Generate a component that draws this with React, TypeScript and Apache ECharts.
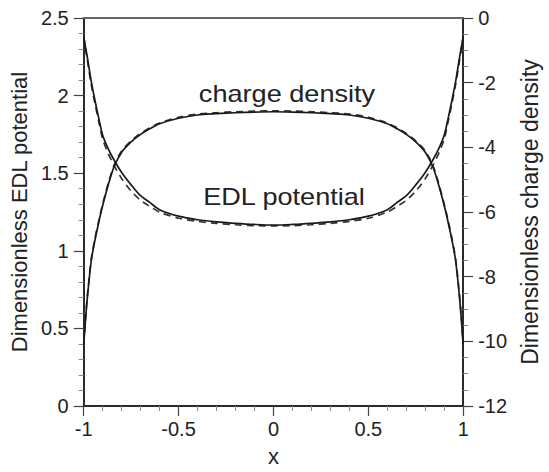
import React, { useEffect, useRef } from "react";
import * as echarts from "echarts";

// x positions across the channel (-1 .. 1)
const xs = [
  -1, -0.99, -0.98, -0.96, -0.94, -0.92, -0.9, -0.87, -0.84, -0.8, -0.75, -0.7, -0.65, -0.6, -0.5, -0.4, -0.3, -0.2, -0.1, 0,
  0.1, 0.2, 0.3, 0.4, 0.5, 0.6, 0.65, 0.7, 0.75, 0.8, 0.84, 0.87, 0.9, 0.92, 0.94, 0.96, 0.98, 0.99, 1,
];

// Dimensionless EDL potential (left axis)
const edlSolid = [
  2.38, 2.31, 2.24, 2.09, 1.965, 1.85, 1.745, 1.655, 1.585, 1.505, 1.425, 1.355, 1.31, 1.265, 1.223, 1.2, 1.186, 1.177, 1.17, 1.166,
  1.17, 1.177, 1.186, 1.2, 1.223, 1.265, 1.31, 1.355, 1.425, 1.505, 1.585, 1.655, 1.745, 1.85, 1.965, 2.09, 2.24, 2.31, 2.38,
];
const edlDashed = [
  2.38, 2.3, 2.22, 2.07, 1.945, 1.83, 1.72, 1.625, 1.55, 1.465, 1.385, 1.325, 1.285, 1.25, 1.21, 1.19, 1.177, 1.168, 1.162, 1.16,
  1.162, 1.168, 1.177, 1.19, 1.21, 1.25, 1.285, 1.325, 1.385, 1.465, 1.55, 1.625, 1.72, 1.83, 1.945, 2.07, 2.22, 2.3, 2.38,
];

// Dimensionless charge density (right axis)
const cdSolid = [
  -10.1, -9.3, -8.6, -7.5, -6.85, -6.3, -5.8, -5.15, -4.6, -4.15, -3.83, -3.6, -3.42, -3.27, -3.1, -3.0, -2.96, -2.93, -2.91, -2.9,
  -2.91, -2.93, -2.96, -3.0, -3.1, -3.27, -3.42, -3.6, -3.83, -4.15, -4.6, -5.15, -5.8, -6.3, -6.85, -7.5, -8.6, -9.3, -10.1,
];
const cdDashed = [
  -10.1, -9.25, -8.55, -7.45, -6.8, -6.25, -5.76, -5.1, -4.56, -4.11, -3.8, -3.57, -3.39, -3.25, -3.07, -2.97, -2.93, -2.9, -2.88, -2.87,
  -2.88, -2.9, -2.93, -2.97, -3.07, -3.25, -3.39, -3.57, -3.8, -4.11, -4.56, -5.1, -5.76, -6.25, -6.8, -7.45, -8.55, -9.25, -10.1,
];

const FONT = "Liberation Sans, Arial, Helvetica, sans-serif";

const pairs = (ys: number[]) => xs.map((x, i) => [x, ys[i]]);

export default function App() {
  const ref = useRef<HTMLDivElement>(null);
  useEffect(() => {
    if (!ref.current) return;
    const chart = echarts.init(ref.current, undefined, { renderer: "svg" });
    const axisDark = "#2b2b2b";
    const tickLbl = { color: "#222", fontFamily: FONT, fontSize: 20 };
    chart.setOption({
      animation: false,
      backgroundColor: "#fff",
      grid: { left: 82, right: 74, top: 18, bottom: 60, containLabel: false },
      xAxis: [
        {
          type: "value",
          min: -1,
          max: 1,
          interval: 0.5,
          name: "x",
          nameLocation: "middle",
          nameGap: 39,
          nameTextStyle: { color: "#222", fontFamily: FONT, fontSize: 22 },
          axisLine: { show: true, onZero: false, lineStyle: { color: axisDark, width: 2 } },
          axisTick: { show: true, length: 10, lineStyle: { color: "#444", width: 1.2 } },
          minorTick: { show: true, splitNumber: 5, length: 5, lineStyle: { color: "#888", width: 1 } },
          axisLabel: { ...tickLbl, margin: 13 },
          splitLine: { show: false },
        },
        {
          type: "value",
          position: "top",
          min: -1,
          max: 1,
          axisLine: { show: true, onZero: false, lineStyle: { color: "#666", width: 2 } },
          axisTick: { show: false },
          axisLabel: { show: false },
          splitLine: { show: false },
        },
      ],
      yAxis: [
        {
          type: "value",
          position: "left",
          min: 0,
          max: 2.5,
          interval: 0.5,
          name: "Dimensionless EDL potential",
          nameLocation: "middle",
          nameGap: 49,
          nameTextStyle: { color: "#222", fontFamily: FONT, fontSize: 22 },
          axisLine: { show: true, onZero: false, lineStyle: { color: axisDark, width: 2 } },
          axisTick: { show: true, length: 10, lineStyle: { color: "#444", width: 1.2 } },
          minorTick: { show: true, splitNumber: 5, length: 5, lineStyle: { color: "#888", width: 1 } },
          axisLabel: { ...tickLbl, margin: 15 },
          splitLine: { show: false },
        },
        {
          type: "value",
          position: "right",
          min: -12,
          max: 0,
          interval: 2,
          name: "Dimensionless charge density",
          nameLocation: "middle",
          nameGap: 51,
          nameTextStyle: { color: "#222", fontFamily: FONT, fontSize: 23 },
          axisLine: { show: true, onZero: false, lineStyle: { color: axisDark, width: 2 } },
          axisTick: { show: true, length: 10, lineStyle: { color: "#444", width: 1.2 } },
          minorTick: { show: true, splitNumber: 4, length: 5, lineStyle: { color: "#888", width: 1 } },
          axisLabel: { ...tickLbl, margin: 15 },
          splitLine: { show: false },
        },
      ],
      series: [
        {
          type: "line",
          name: "EDL potential (dashed)",
          xAxisIndex: 0,
          yAxisIndex: 0,
          data: pairs(edlDashed),
          smooth: 0.3,
          showSymbol: false,
          lineStyle: { color: "#333", width: 1.7, type: [7, 5] },
        },
        {
          type: "line",
          name: "charge density (dashed)",
          xAxisIndex: 0,
          yAxisIndex: 1,
          data: pairs(cdDashed),
          smooth: 0.3,
          showSymbol: false,
          lineStyle: { color: "#333", width: 1.7, type: [7, 5] },
        },
        {
          type: "line",
          name: "EDL potential",
          xAxisIndex: 0,
          yAxisIndex: 0,
          data: pairs(edlSolid),
          smooth: 0.3,
          showSymbol: false,
          lineStyle: { color: "#1a1a1a", width: 1.7 },
        },
        {
          type: "line",
          name: "charge density",
          xAxisIndex: 0,
          yAxisIndex: 1,
          data: pairs(cdSolid),
          smooth: 0.3,
          showSymbol: false,
          lineStyle: { color: "#1a1a1a", width: 1.7 },
        },
      ],
      graphic: [
        {
          type: "text",
          x: 287,
          y: 94,
          scaleX: 1.13,
          style: {
            text: "charge density",
            x: 0,
            y: 0,
            align: "center",
            verticalAlign: "middle",
            fill: "#222",
            font: `24px ${FONT}`,
          },
        },
        {
          type: "text",
          x: 284,
          y: 197,
          scaleX: 1.13,
          style: {
            text: "EDL potential",
            x: 0,
            y: 0,
            align: "center",
            verticalAlign: "middle",
            fill: "#222",
            font: `24px ${FONT}`,
          },
        },
      ],
    });
    return () => chart.dispose();
  }, []);
  return (
    <div
      ref={ref}
      style={{ position: "absolute", left: 0, top: 0, width: 549, height: 472, background: "#fff" }}
    />
  );
}
